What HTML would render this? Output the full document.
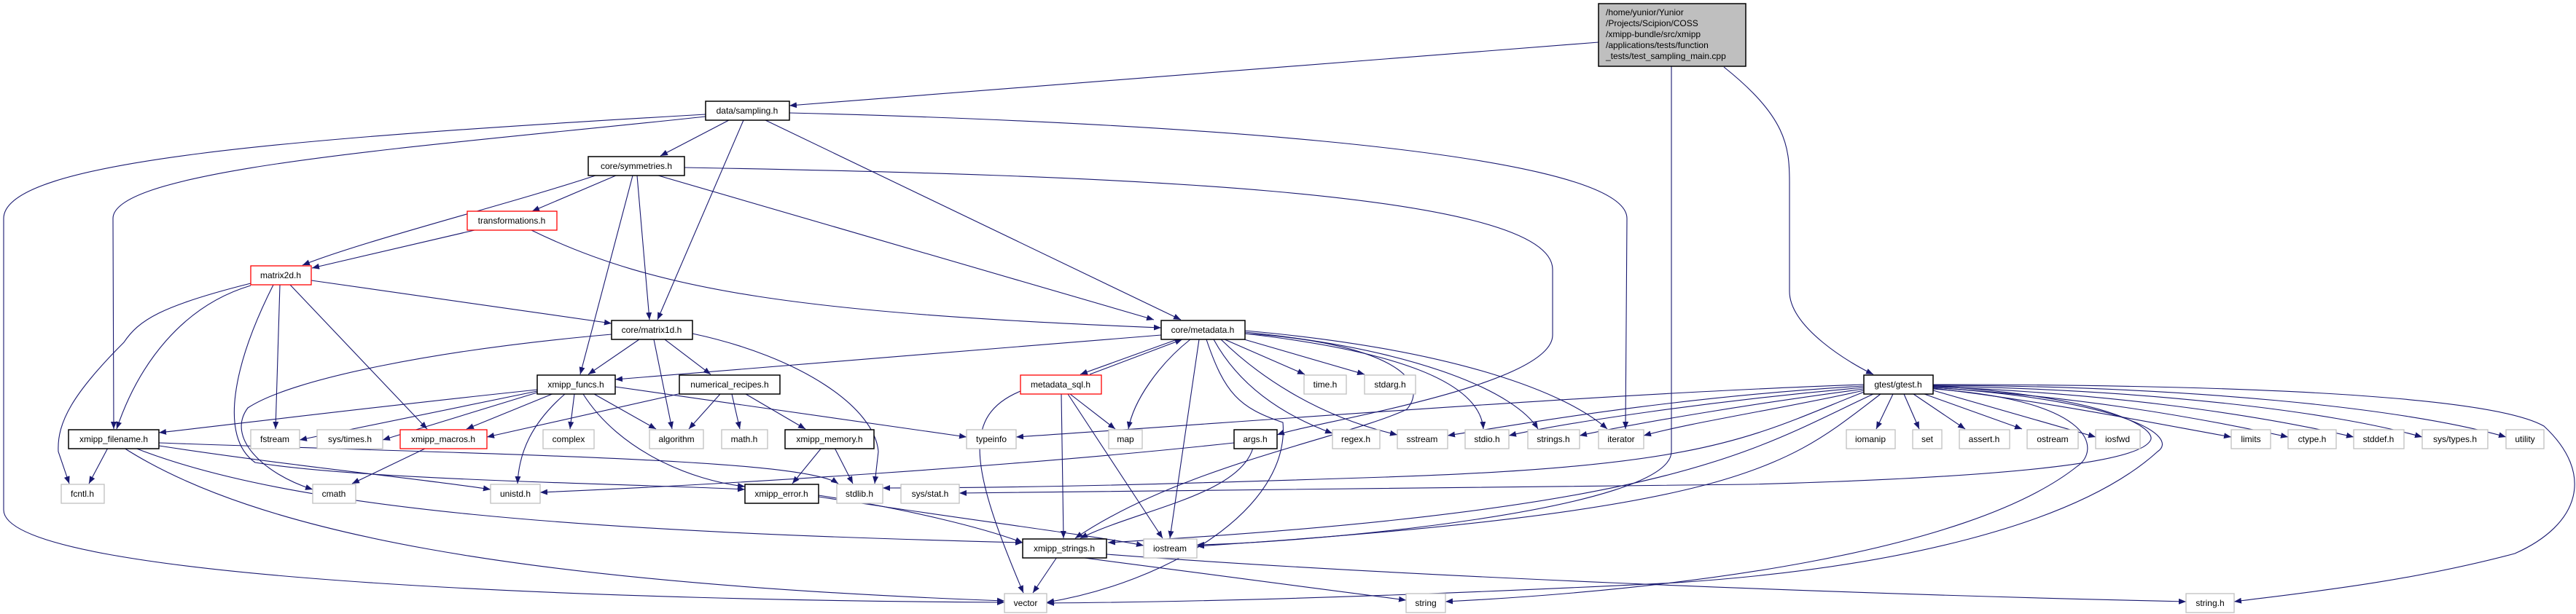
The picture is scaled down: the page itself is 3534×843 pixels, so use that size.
<!DOCTYPE html>
<html><head><meta charset="utf-8"><style>
html,body{margin:0;padding:0;background:#fff;}
svg{display:block;}
text{font-family:"Liberation Sans",sans-serif;font-size:12px;fill:#000;}
.e{fill:none;stroke:#191970;stroke-width:1.1;marker-end:url(#a);}
.g{fill:#fff;stroke:#bfbfbf;stroke-width:1.3;}
.b{fill:#fff;stroke:#000;stroke-width:1.5;}
.r{fill:#fff;stroke:#ff0000;stroke-width:1.3;}
</style></head><body>
<svg width="3534" height="843" viewBox="0 0 3534 843" xmlns="http://www.w3.org/2000/svg">
<defs><marker id="a" markerUnits="userSpaceOnUse" markerWidth="11" markerHeight="8" refX="10" refY="4" orient="auto"><path d="M0,0 L10,4 L0,8 z" fill="#191970"/></marker></defs>
<g>
<path class="e" d="M2193,58 L1083,145"/>
<path class="e" d="M968,157 C400,190 5,220 5,300 L5,700 C5,800 900,825 1378,827"/>
<path class="e" d="M968,160 C600,200 155,230 155,300 L156,589"/>
<path class="e" d="M1000,165 L906,214"/>
<path class="e" d="M1020,165 L902,439"/>
<path class="e" d="M1050,165 L1620,439"/>
<path class="e" d="M1083,155 C1500,165 2232,200 2232,300 L2230,589"/>
<path class="e" d="M903,241 L1583,439"/>
<path class="e" d="M729,316 C900,400 1100,430 1593,450"/>
<path class="e" d="M1593,460 L844,521"/>
<path class="e" d="M939,230 C1500,240 2130,260 2130,370 L2130,460 C2130,530 1800,580 1752,597"/>
<path class="e" d="M820,240 C700,280 500,330 415,364"/>
<path class="e" d="M845,241 L730,290"/>
<path class="e" d="M874,241 L891,439"/>
<path class="e" d="M868,241 L796,514"/>
<path class="e" d="M651,316 L428,368"/>
<path class="e" d="M427,385 L839,444"/>
<path class="e" d="M344,392 C250,420 190,500 160,589"/>
<path class="e" d="M344,389 C220,420 190,440 170,470 C100,540 78,580 80,620 L95,664"/>
<path class="e" d="M384,391 L378,589"/>
<path class="e" d="M398,391 L586,589"/>
<path class="e" d="M375,391 C320,500 300,600 350,635 C500,660 900,665 1022,672"/>
<path class="e" d="M877,466 L807,514"/>
<path class="e" d="M912,466 L975,514"/>
<path class="e" d="M897,466 L922,589"/>
<path class="e" d="M839,459 C600,480 400,520 340,560 C310,600 360,650 429,672"/>
<path class="e" d="M950,458 C1100,490 1200,560 1205,620 L1200,664"/>
<path class="e" d="M737,535 C500,560 300,585 218,594"/>
<path class="e" d="M737,537 L411,604"/>
<path class="e" d="M740,538 L525,604"/>
<path class="e" d="M760,540 L640,589"/>
<path class="e" d="M788,541 L782,589"/>
<path class="e" d="M815,541 L900,589"/>
<path class="e" d="M775,541 C730,580 712,620 710,664"/>
<path class="e" d="M800,541 C850,620 950,660 1022,668"/>
<path class="e" d="M844,531 L1326,600"/>
<path class="e" d="M935,540 L668,600"/>
<path class="e" d="M988,541 L945,589"/>
<path class="e" d="M1004,541 L1015,589"/>
<path class="e" d="M1023,541 L1105,589"/>
<path class="e" d="M1127,615 L1087,664"/>
<path class="e" d="M1145,615 L1170,664"/>
<path class="e" d="M585,615 L483,664"/>
<path class="e" d="M148,615 L122,664"/>
<path class="e" d="M218,612 C400,640 600,660 673,672"/>
<path class="e" d="M218,608 C700,625 1100,630 1150,664"/>
<path class="e" d="M185,615 C400,700 800,730 1403,745"/>
<path class="e" d="M170,615 C350,730 700,800 1378,825"/>
<path class="e" d="M1123,680 C1250,700 1350,725 1403,745"/>
<path class="e" d="M1123,682 C1300,710 1500,735 1569,749"/>
<path class="e" d="M1693,608 C1400,640 1000,665 741,676"/>
<path class="e" d="M1719,615 C1700,680 1560,700 1482,739"/>
<path class="e" d="M1615,466 L1482,514"/>
<path class="e" d="M1495,514 L1622,466"/>
<path class="e" d="M1633,466 C1590,500 1555,550 1548,589"/>
<path class="e" d="M1645,466 L1605,739"/>
<path class="e" d="M1655,466 C1680,540 1700,560 1760,580 C1770,700 1600,800 1436,827"/>
<path class="e" d="M1665,466 C1700,530 1760,570 1828,595"/>
<path class="e" d="M1675,466 C1720,510 1800,570 1917,597"/>
<path class="e" d="M1680,466 L1790,514"/>
<path class="e" d="M1700,464 L1872,514"/>
<path class="e" d="M1708,458 C1900,480 2030,520 2035,589"/>
<path class="e" d="M1708,456 C1950,480 2080,540 2110,589"/>
<path class="e" d="M1708,454 C2000,480 2150,540 2205,589"/>
<path class="e" d="M1708,458 C1900,470 1965,520 1930,562 C1850,600 1620,640 1475,739"/>
<path class="e" d="M1468,541 L1530,589"/>
<path class="e" d="M1456,541 L1459,739"/>
<path class="e" d="M1465,541 L1595,739"/>
<path class="e" d="M1400,537 C1320,570 1330,640 1404,814"/>
<path class="e" d="M1450,765 L1417,814"/>
<path class="e" d="M1480,765 L1929,824"/>
<path class="e" d="M1518,761 C1900,790 2500,815 2999,826"/>
<path class="e" d="M2293,91 L2293,620 C2293,700 1800,745 1642,748"/>
<path class="e" d="M2365,92 C2450,160 2455,200 2455,250 L2455,400 C2455,450 2540,500 2570,514"/>
<!-- gtest edges -->
<path class="e" d="M2557,528 C2200,540 1700,580 1394,600"/>
<path class="e" d="M2557,530 C2300,545 2100,580 1986,598"/>
<path class="e" d="M2557,532 C2350,550 2150,580 2070,598"/>
<path class="e" d="M2557,534 C2400,555 2250,580 2167,598"/>
<path class="e" d="M2557,536 C2450,560 2320,580 2255,598"/>
<path class="e" d="M2560,537 C2400,600 2350,640 1900,655 C1600,665 1400,670 1211,670"/>
<path class="e" d="M2652,530 C2900,545 2960,590 2950,605 C2930,640 2700,657 2400,665 L1316,677"/>
<path class="e" d="M2580,541 C2450,640 2400,700 1642,750"/>
<path class="e" d="M2570,541 C2400,620 2300,700 1520,745"/>
<path class="e" d="M2652,532 C2920,550 2990,600 2960,620 C2850,720 2600,780 2300,800 C2000,815 1700,826 1436,828"/>
<path class="e" d="M2652,534 C2880,550 2880,620 2850,640 C2700,760 2300,810 1983,826"/>
<path class="e" d="M2597,541 L2574,589"/>
<path class="e" d="M2612,541 L2633,589"/>
<path class="e" d="M2625,541 L2696,589"/>
<path class="e" d="M2640,541 L2774,589"/>
<path class="e" d="M2652,536 L2875,600"/>
<path class="e" d="M2652,533 C2800,550 2950,580 3061,600"/>
<path class="e" d="M2652,532 C2850,545 3000,570 3139,600"/>
<path class="e" d="M2652,531 C2900,540 3100,570 3229,600"/>
<path class="e" d="M2652,530 C2950,535 3200,565 3323,600"/>
<path class="e" d="M2652,529 C3000,530 3300,560 3438,600"/>
<path class="e" d="M2652,528 C3100,528 3420,545 3490,585 C3560,650 3540,720 3450,760 C3300,800 3150,815 3065,826"/>
</g>
<!-- nodes -->
<rect x="2193" y="5" width="202" height="86" fill="#bfbfbf" stroke="#000" stroke-width="1.5"/>
<text x="2203" y="21">/home/yunior/Yunior</text>
<text x="2203" y="36">/Projects/Scipion/COSS</text>
<text x="2203" y="51">/xmipp-bundle/src/xmipp</text>
<text x="2203" y="66">/applications/tests/function</text>
<text x="2203" y="81">_tests/test_sampling_main.cpp</text>
<g text-anchor="middle">
<rect class="b" x="968" y="139" width="115" height="26"/><text x="1025" y="156">data/sampling.h</text>
<rect class="b" x="807" y="215" width="132" height="26"/><text x="873" y="232">core/symmetries.h</text>
<rect class="r" x="641" y="290" width="123" height="26"/><text x="702" y="307">transformations.h</text>
<rect class="r" x="344" y="365" width="83" height="26"/><text x="385" y="382">matrix2d.h</text>
<rect class="b" x="839" y="440" width="111" height="26"/><text x="894" y="457">core/matrix1d.h</text>
<rect class="b" x="1593" y="440" width="115" height="26"/><text x="1650" y="457">core/metadata.h</text>
<rect class="b" x="737" y="515" width="107" height="26"/><text x="790" y="532">xmipp_funcs.h</text>
<rect class="b" x="932" y="515" width="138" height="26"/><text x="1001" y="532">numerical_recipes.h</text>
<rect class="r" x="1400" y="515" width="111" height="26"/><text x="1455" y="532">metadata_sql.h</text>
<rect class="g" x="1789" y="515" width="58" height="26"/><text x="1818" y="532">time.h</text>
<rect class="g" x="1872" y="515" width="70" height="26"/><text x="1907" y="532">stdarg.h</text>
<rect class="b" x="2557" y="515" width="95" height="26"/><text x="2604" y="532">gtest/gtest.h</text>
<rect class="b" x="94" y="590" width="124" height="26"/><text x="156" y="607">xmipp_filename.h</text>
<rect class="g" x="344" y="590" width="67" height="26"/><text x="377" y="607">fstream</text>
<rect class="g" x="435" y="590" width="90" height="26"/><text x="480" y="607">sys/times.h</text>
<rect class="r" x="549" y="590" width="119" height="26"/><text x="608" y="607">xmipp_macros.h</text>
<rect class="g" x="745" y="590" width="70" height="26"/><text x="780" y="607">complex</text>
<rect class="g" x="891" y="590" width="74" height="26"/><text x="928" y="607">algorithm</text>
<rect class="g" x="990" y="590" width="63" height="26"/><text x="1021" y="607">math.h</text>
<rect class="b" x="1077" y="590" width="122" height="26"/><text x="1138" y="607">xmipp_memory.h</text>
<rect class="g" x="1326" y="590" width="68" height="26"/><text x="1360" y="607">typeinfo</text>
<rect class="g" x="1521" y="590" width="46" height="26"/><text x="1544" y="607">map</text>
<rect class="b" x="1693" y="590" width="59" height="26"/><text x="1722" y="607">args.h</text>
<rect class="g" x="1828" y="590" width="65" height="26"/><text x="1860" y="607">regex.h</text>
<rect class="g" x="1917" y="590" width="69" height="26"/><text x="1951" y="607">sstream</text>
<rect class="g" x="2010" y="590" width="60" height="26"/><text x="2040" y="607">stdio.h</text>
<rect class="g" x="2096" y="590" width="71" height="26"/><text x="2131" y="607">strings.h</text>
<rect class="g" x="2193" y="590" width="62" height="26"/><text x="2224" y="607">iterator</text>
<rect class="g" x="2533" y="590" width="67" height="26"/><text x="2566" y="607">iomanip</text>
<rect class="g" x="2624" y="590" width="40" height="26"/><text x="2644" y="607">set</text>
<rect class="g" x="2688" y="590" width="69" height="26"/><text x="2722" y="607">assert.h</text>
<rect class="g" x="2781" y="590" width="70" height="26"/><text x="2816" y="607">ostream</text>
<rect class="g" x="2875" y="590" width="61" height="26"/><text x="2905" y="607">iosfwd</text>
<rect class="g" x="3061" y="590" width="54" height="26"/><text x="3088" y="607">limits</text>
<rect class="g" x="3139" y="590" width="66" height="26"/><text x="3172" y="607">ctype.h</text>
<rect class="g" x="3229" y="590" width="69" height="26"/><text x="3263" y="607">stddef.h</text>
<rect class="g" x="3323" y="590" width="90" height="26"/><text x="3368" y="607">sys/types.h</text>
<rect class="g" x="3438" y="590" width="52" height="26"/><text x="3464" y="607">utility</text>
<rect class="g" x="84" y="665" width="59" height="26"/><text x="113" y="682">fcntl.h</text>
<rect class="g" x="429" y="665" width="59" height="26"/><text x="458" y="682">cmath</text>
<rect class="g" x="673" y="665" width="68" height="26"/><text x="707" y="682">unistd.h</text>
<rect class="b" x="1022" y="665" width="101" height="26"/><text x="1072" y="682">xmipp_error.h</text>
<rect class="g" x="1148" y="665" width="63" height="26"/><text x="1179" y="682">stdlib.h</text>
<rect class="g" x="1236" y="665" width="80" height="26"/><text x="1276" y="682">sys/stat.h</text>
<rect class="b" x="1403" y="740" width="115" height="26"/><text x="1460" y="757">xmipp_strings.h</text>
<rect class="g" x="1569" y="740" width="73" height="26"/><text x="1605" y="757">iostream</text>
<rect class="g" x="1378" y="815" width="58" height="26"/><text x="1407" y="832">vector</text>
<rect class="g" x="1929" y="815" width="54" height="26"/><text x="1956" y="832">string</text>
<rect class="g" x="2999" y="815" width="66" height="26"/><text x="3032" y="832">string.h</text>
</g>
</svg>
</body></html>
